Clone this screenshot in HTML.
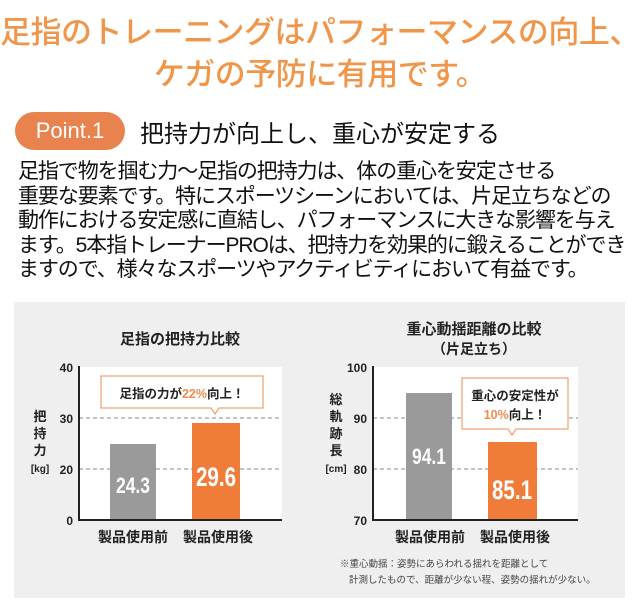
<!DOCTYPE html>
<html><head><meta charset="utf-8"><style>
body{margin:0;width:640px;height:610px;background:#fff;position:relative;overflow:hidden;font-family:"Liberation Sans","Noto Sans CJK JP",sans-serif}
.a{position:absolute;white-space:nowrap}
.t{color:#f0964a;font-size:31px;font-weight:500;left:0;width:640px;text-align:center;letter-spacing:-0.5px}
.b{left:18px;font-size:21px;color:#111;letter-spacing:-1.1px;line-height:24.5px}
</style></head><body>
<div class="a t" style="top:7px">足指のトレーニングはパフォーマンスの向上、</div>
<div class="a t" style="top:49px">ケガの予防に有用です。</div>
<div class="a" style="left:15px;top:112px;width:110px;height:38px;border-radius:19px;background:#e8834d;color:#fff;font-size:22px;line-height:38px;text-align:center">Point.1</div>
<div class="a" style="left:140px;top:114px;font-size:24px;color:#111">把持力が向上し、重心が安定する</div>
<div class="a b" style="top:160px">足指で物を掴む力～足指の把持力は、体の重心を安定させる<br>重要な要素です。特にスポーツシーンにおいては、片足立ちなどの<br>動作における安定感に直結し、パフォーマンスに大きな影響を与え<br>ます。5本指トレーナーPROは、把持力を効果的に鍛えることができ<br>ますので、様々なスポーツやアクティビティにおいて有益です。</div>
<svg class="a" style="left:0;top:0" width="640" height="610" font-family="Liberation Sans,Noto Sans CJK JP,sans-serif">
<rect x="14" y="302" width="611" height="296" fill="#efefef"/>
<text x="180" y="344" font-size="15" font-weight="bold" text-anchor="middle" fill="#222">足指の把持力比較</text>
<rect x="79" y="367" width="203" height="153" fill="#fff"/>
<line x1="79" y1="418" x2="282" y2="418" stroke="#888" stroke-dasharray="4,3"/>
<line x1="79" y1="469" x2="282" y2="469" stroke="#888" stroke-dasharray="4,3"/>
<rect x="110" y="444" width="46" height="76" fill="#9a9a9a"/>
<rect x="192" y="423" width="48" height="97" fill="#f07c3a"/>
<text x="133" y="493" font-size="22" font-weight="bold" fill="#fff" text-anchor="middle" textLength="34" lengthAdjust="spacingAndGlyphs">24.3</text>
<text x="216" y="486" font-size="27" font-weight="bold" fill="#fff" text-anchor="middle" textLength="40" lengthAdjust="spacingAndGlyphs">29.6</text>
<path d="M101 376h162v32h-44l-4 6-4-6h-110z" fill="#fff" stroke="#f0a070" stroke-width="1.2"/>
<text x="182" y="398" font-size="12.5" font-weight="bold" fill="#222" text-anchor="middle">足指の力が<tspan fill="#f08a50">22%</tspan>向上！</text>
<line x1="79" y1="366" x2="79" y2="521" stroke="#222" stroke-width="2"/>
<line x1="78" y1="520" x2="282" y2="520" stroke="#222" stroke-width="2"/>
<g font-size="12" font-weight="bold" fill="#222" text-anchor="end">
<text x="73" y="372">40</text><text x="73" y="423">30</text><text x="73" y="474">20</text><text x="73" y="525">0</text></g>
<g font-size="13" font-weight="bold" fill="#222" text-anchor="middle">
<text x="40" y="421">把</text><text x="40" y="438">持</text><text x="40" y="455">力</text><text x="40" y="472" font-size="10">[kg]</text></g>
<text x="133" y="542" font-size="14" font-weight="bold" fill="#222" text-anchor="middle">製品使用前</text>
<text x="218" y="542" font-size="14" font-weight="bold" fill="#222" text-anchor="middle">製品使用後</text>
<text x="474" y="334" font-size="15" font-weight="bold" text-anchor="middle" fill="#222">重心動揺距離の比較</text>
<text x="474" y="354" font-size="14" font-weight="bold" text-anchor="middle" fill="#222">（片足立ち）</text>
<rect x="373" y="367" width="205" height="153" fill="#fff"/>
<line x1="373" y1="418" x2="578" y2="418" stroke="#888" stroke-dasharray="4,3"/>
<line x1="373" y1="469" x2="578" y2="469" stroke="#888" stroke-dasharray="4,3"/>
<rect x="406" y="393" width="46" height="127" fill="#9a9a9a"/>
<rect x="488" y="442" width="49" height="78" fill="#f07c3a"/>
<text x="429" y="464" font-size="22" font-weight="bold" fill="#fff" text-anchor="middle" textLength="34" lengthAdjust="spacingAndGlyphs">94.1</text>
<text x="512" y="499" font-size="27" font-weight="bold" fill="#fff" text-anchor="middle" textLength="40" lengthAdjust="spacingAndGlyphs">85.1</text>
<path d="M462 378h106v51h-52l-4 6-4-6h-46z" fill="#fff" stroke="#f0a070" stroke-width="1.2"/>
<text x="515" y="400" font-size="12.5" font-weight="bold" fill="#222" text-anchor="middle">重心の安定性が</text>
<text x="515" y="419" font-size="12.5" font-weight="bold" fill="#222" text-anchor="middle"><tspan fill="#f08a50">10%</tspan>向上！</text>
<line x1="373" y1="366" x2="373" y2="521" stroke="#222" stroke-width="2"/>
<line x1="372" y1="520" x2="578" y2="520" stroke="#222" stroke-width="2"/>
<g font-size="12" font-weight="bold" fill="#222" text-anchor="end">
<text x="367" y="372">100</text><text x="367" y="423">90</text><text x="367" y="474">80</text><text x="367" y="525">70</text></g>
<g font-size="13" font-weight="bold" fill="#222" text-anchor="middle">
<text x="336" y="404">総</text><text x="336" y="421">軌</text><text x="336" y="438">跡</text><text x="336" y="455">長</text><text x="336" y="472" font-size="10">[cm]</text></g>
<text x="430" y="542" font-size="14" font-weight="bold" fill="#222" text-anchor="middle">製品使用前</text>
<text x="515" y="542" font-size="14" font-weight="bold" fill="#222" text-anchor="middle">製品使用後</text>
<text x="340" y="567" font-size="9.5" fill="#444">※重心動揺：姿勢にあらわれる揺れを距離として</text>
<text x="349" y="583" font-size="9.5" fill="#444">計測したもので、距離が少ない程、姿勢の揺れが少ない。</text>
</svg>
</body></html>
